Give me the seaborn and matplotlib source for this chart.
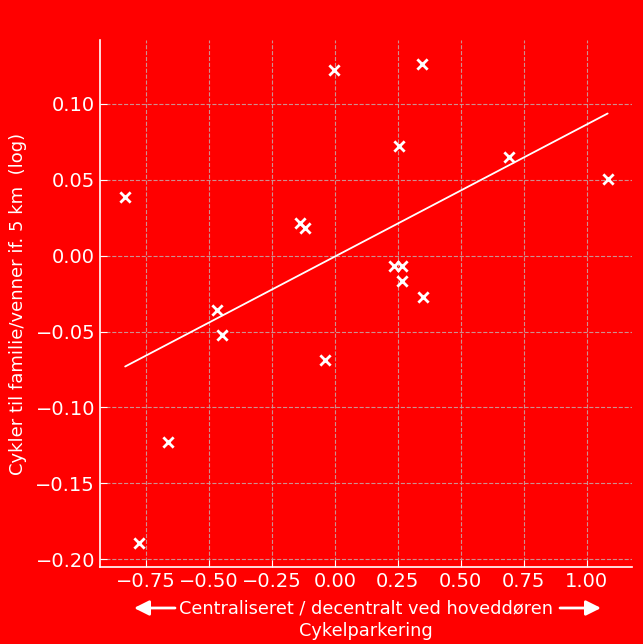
import pandas as pd
import matplotlib.pyplot as plt
import numpy as np
import seaborn as sns

# data
parkering = [-0.833, -0.778, -0.663, -0.468, -0.448, -0.139, -0.119, -0.040, -0.004,
             0.345, 0.254, 0.234, 0.266, 0.266, 0.349, 0.690, 1.083]
cykler = [0.0388, -0.189, -0.123, -0.0355, -0.052, 0.0217, 0.0184, -0.069, 0.122,
          0.126, 0.072, -0.0066, -0.0066, -0.0164, -0.027, 0.065, 0.0507]
x_ticks = [-0.75, -0.50, -0.25, 0.00, 0.25, 0.50, 0.75, 1.00]
y_ticks = [-0.20, -0.15, -0.10, -0.05, 0.00, 0.05, 0.10]

df = pd.DataFrame({'parkering': parkering, 'cykler': cykler})

sns.set_style("ticks")
plt.rcParams['font.family'] = ['DejaVu Sans']

fig, ax = plt.subplots(figsize=(6.43, 6.44), dpi=100)
fig.patch.set_facecolor('#ff0000')
ax.set_facecolor('#ff0000')

sns.regplot(data=df, x='parkering', y='cykler', ci=None, marker='x', color='white',
            scatter_kws={'s': 55, 'linewidths': 2, 'alpha': 1},
            line_kws={'linewidth': 1.3}, ax=ax)

ax.set_xlim(-0.933, 1.18)
ax.set_ylim(-0.205, 0.142)
ax.set_xticks(x_ticks)
ax.set_yticks(y_ticks)
ax.grid(True, linestyle='--', color='#c8a0a0', linewidth=0.8, alpha=0.9)
ax.set_axisbelow(True)

for s in ['top', 'right']:
    ax.spines[s].set_visible(False)
for s in ['left', 'bottom']:
    ax.spines[s].set_color('white')
    ax.spines[s].set_linewidth(1.2)
ax.tick_params(colors='white', direction='in', labelsize=14, length=5)

ax.set_xlabel('Centraliseret / decentralt ved hoveddøren\nCykelparkering',
              color='white', fontsize=12.8, labelpad=6, linespacing=1.35)
ax.set_ylabel('Cykler til familie/venner if. 5 km  (log)', color='white', fontsize=13,
              labelpad=6)

fig.subplots_adjust(left=0.1555, right=0.983, top=0.938, bottom=0.1196)

# arrows beside the first line of the x label
arrow = dict(arrowstyle='-|>,head_width=0.45,head_length=0.9', lw=2, color='white',
             shrinkA=0, shrinkB=0)
ax.annotate('', xy=(134 / 643, 1 - 608 / 644), xytext=(175 / 643, 1 - 608 / 644),
            xycoords='figure fraction', textcoords='figure fraction', arrowprops=arrow)
ax.annotate('', xy=(601 / 643, 1 - 608 / 644), xytext=(560 / 643, 1 - 608 / 644),
            xycoords='figure fraction', textcoords='figure fraction', arrowprops=arrow)

plt.savefig('out.png', dpi=100, facecolor=fig.get_facecolor())
